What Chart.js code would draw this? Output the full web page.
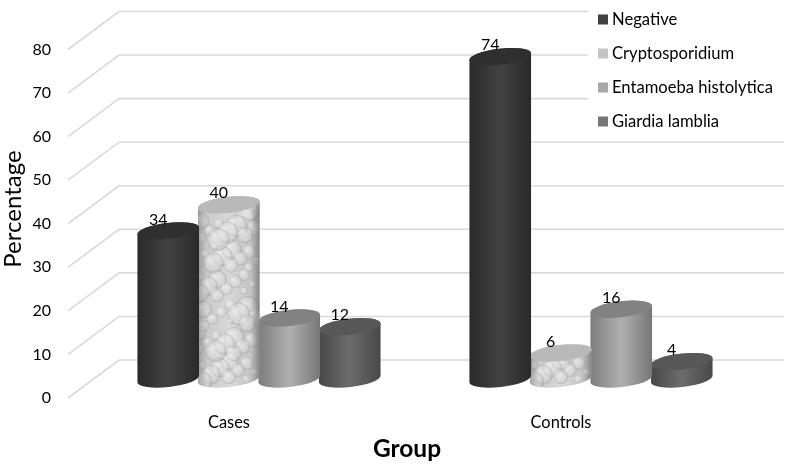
<!DOCTYPE html>
<html>
<head>
<meta charset="utf-8">
<style>
  html, body { margin: 0; padding: 0; background: #fff; }
  canvas { display: block; }
</style>
<script src="https://cdn.jsdelivr.net/npm/chart.js@4"></script>
</head>
<body>
<canvas id="chart" width="789" height="465"></canvas>
<script>
// ── Data ───────────────────────────────────────────────
const categories      = ['Cases', 'Controls'];
const negative        = [34, 74];
const cryptosporidium = [40, 6];
const entamoeba       = [14, 16];
const giardia         = [12, 4];

// ── Styles ─────────────────────────────────────────────
const FONT = 'Lato';
const _GRID_COLOR = '#d9d9d9';
const _TEXT = '#000';
// body gradient (edge, middle, edge), cap colour, legend swatch
const _SERIES = [
  { label: 'Negative',              data: negative,        stops: ['#2a2a2a', '#424242', '#292929'], cap: '#2f2f2f', swatch: '#404040' },
  { label: 'Cryptosporidium',       data: cryptosporidium, stops: ['#c4c4c4', '#d8d8d8', '#bcbcbc'], cap: '#b9b9b9', swatch: '#c4c4c4', textured: true },
  { label: 'Entamoeba histolytica', data: entamoeba,       stops: ['#7c7c7c', '#b0b0b0', '#767676'], cap: '#828282', swatch: '#a8a8a8' },
  { label: 'Giardia lamblia',       data: giardia,         stops: ['#484848', '#6c6c6c', '#484848'], cap: '#585858', swatch: '#777777' },
];

// 3D layout of the walls and cylinders
const WALL_DX = 51, WALL_DY = 38;
const BAR_DX = 30, BAR_DY = 19;
const RX = 31, RY = 8, TILT = -6.5 * Math.PI / 180;

// ── Helpers ────────────────────────────────────────────
function _cylinderPath(ctx, cx, topY, botY) {
  ctx.beginPath();
  ctx.ellipse(cx, botY, RX, RY, TILT, 0, Math.PI);
  ctx.ellipse(cx, topY, RX, RY, TILT, Math.PI, Math.PI * 2);
  ctx.closePath();
}

function _bodyGradient(ctx, cx, stops) {
  const g = ctx.createLinearGradient(cx - RX, 0, cx + RX, 0);
  g.addColorStop(0, stops[0]);
  g.addColorStop(0.5, stops[1]);
  g.addColorStop(1, stops[2]);
  return g;
}

// bubbly surface of the Cryptosporidium bars (decoration only)
function _drawBubbles(ctx, cx, topY, botY) {
  for (let i = 1; i <= 70; i++) {
    const px = cx - RX + ((i * 0.7549) % 1) * RX * 2;
    const py = botY + 10 - ((i * 0.5698) % 1) * 200;
    if (py < topY - 12 || py > botY + 12) continue;
    const r = 3 + ((i * 0.382) % 1) * 9;
    const g = ctx.createRadialGradient(px - r * 0.35, py - r * 0.35, r * 0.1, px, py, r);
    g.addColorStop(0, 'rgba(250,250,250,0.55)');
    g.addColorStop(0.7, 'rgba(225,225,225,0.3)');
    g.addColorStop(0.92, 'rgba(150,150,150,0.4)');
    g.addColorStop(1, 'rgba(150,150,150,0)');
    ctx.fillStyle = g;
    ctx.beginPath();
    ctx.arc(px, py, r, 0, Math.PI * 2);
    ctx.fill();
  }
}

function _edgeShade(ctx, cx) {
  const g = ctx.createLinearGradient(cx - RX, 0, cx + RX, 0);
  g.addColorStop(0, 'rgba(125,125,125,0.6)');
  g.addColorStop(0.15, 'rgba(125,125,125,0)');
  g.addColorStop(0.85, 'rgba(125,125,125,0)');
  g.addColorStop(1, 'rgba(110,110,110,0.75)');
  return g;
}

// ── Plugins ────────────────────────────────────────────
const _wallGridPlugin = {
  id: 'wallGrid',
  beforeDatasetsDraw(chart) {
    const { ctx, chartArea, scales: { y } } = chart;
    const x0 = chartArea.left + 5;
    ctx.save();
    ctx.strokeStyle = _GRID_COLOR;
    ctx.lineWidth = 1.6;
    y.ticks.forEach(t => {
      const py = y.getPixelForValue(t.value);
      const backY = py - WALL_DY;
      // legend box hides the wall lines behind it
      const end = backY < 135 ? 588 : 784;
      ctx.beginPath();
      ctx.moveTo(x0, py);
      ctx.lineTo(x0 + WALL_DX, backY);
      ctx.lineTo(end, backY);
      ctx.stroke();
    });
    ctx.restore();
  },
};

const _cylinderPlugin = {
  id: 'cylinder',
  // replace the flat bar of each dataset by a cylinder
  beforeDatasetDraw(chart, args) {
    const { ctx } = chart;
    const s = _SERIES[args.index];
    args.meta.data.forEach(bar => {
      const cx = bar.x + BAR_DX;
      const topY = bar.y - BAR_DY;
      const botY = bar.base - BAR_DY;
      ctx.save();
      _cylinderPath(ctx, cx, topY, botY);
      ctx.fillStyle = _bodyGradient(ctx, cx, s.stops);
      ctx.fill();
      if (s.textured) {
        ctx.clip();
        _drawBubbles(ctx, cx, topY, botY);
        ctx.fillStyle = _edgeShade(ctx, cx);
        ctx.fillRect(cx - RX - 2, topY - RY - 8, RX * 2 + 4, botY - topY + RY * 2 + 16);
      }
      ctx.restore();
      ctx.save();
      ctx.beginPath();
      ctx.ellipse(cx, topY, RX, RY, TILT, 0, Math.PI * 2);
      ctx.fillStyle = s.cap;
      ctx.fill();
      ctx.restore();
    });
    return false;
  },
  afterDatasetsDraw(chart) {
    const { ctx } = chart;
    ctx.save();
    ctx.fillStyle = _TEXT;
    ctx.font = `16px ${FONT}`;
    ctx.textAlign = 'center';
    ctx.textBaseline = 'middle';
    _SERIES.forEach((s, di) => {
      chart.getDatasetMeta(di).data.forEach((bar, i) => {
        ctx.fillText(String(s.data[i]), bar.x + BAR_DX - 10, bar.y - BAR_DY - 11.5);
      });
    });
    ctx.restore();
  },
};

const _legendAndTitlesPlugin = {
  id: 'legendAndTitles',
  afterDraw(chart) {
    const { ctx } = chart;
    ctx.save();
    ctx.textBaseline = 'middle';
    ctx.textAlign = 'left';
    ctx.font = `16.6px ${FONT}`;
    _SERIES.forEach((s, i) => {
      const y = 19.5 + i * 34;
      ctx.fillStyle = s.swatch;
      ctx.fillRect(598, y - 5, 10, 10);
      ctx.fillStyle = _TEXT;
      ctx.fillText(s.label, 612, y);
    });
    ctx.textAlign = 'center';
    ctx.font = `bold 24.5px ${FONT}`;
    ctx.fillText('Group', 407, 449);
    ctx.translate(13, 209);
    ctx.rotate(-Math.PI / 2);
    ctx.font = `24px ${FONT}`;
    ctx.fillText('Percentage', 0, 0);
    ctx.restore();
  },
};

// ── Chart creation ─────────────────────────────────────
new Chart(document.getElementById('chart'), {
  type: 'bar',
  data: {
    labels: categories,
    datasets: _SERIES.map(s => ({
      label: s.label,
      data: s.data,
      backgroundColor: s.swatch,
      categoryPercentage: 0.729,
      barPercentage: 1,
    })),
  },
  options: {
    responsive: false,
    animation: false,
    layout: { padding: { top: 49.5, right: 62, left: 0, bottom: 0 } },
    scales: {
      x: {
        grid: { display: false, drawTicks: false },
        border: { display: false },
        ticks: { color: _TEXT, font: { family: FONT, size: 16.4 }, padding: 15, maxRotation: 0 },
        afterFit(scale) { scale.height = 67; },
      },
      y: {
        min: 0,
        max: 80,
        grid: { display: false, drawTicks: false },
        border: { display: false },
        ticks: { stepSize: 10, color: _TEXT, font: { family: FONT, size: 16 }, padding: 12 },
        afterFit(scale) { scale.width = 63; },
      },
    },
    plugins: {
      legend: { display: false },
      tooltip: { enabled: false },
    },
  },
  plugins: [_wallGridPlugin, _cylinderPlugin, _legendAndTitlesPlugin],
});
</script>
</body>
</html>
